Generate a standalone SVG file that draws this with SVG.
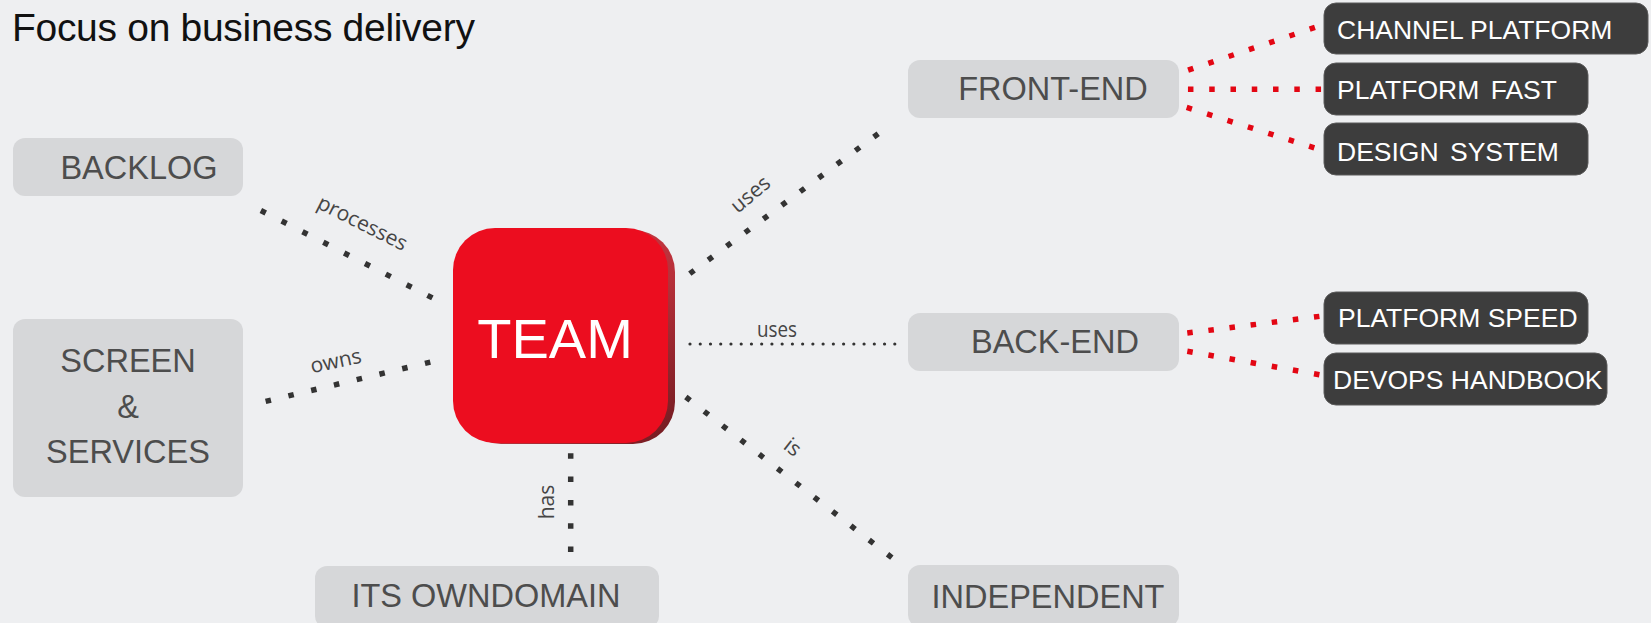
<svg xmlns="http://www.w3.org/2000/svg" width="1651" height="623" viewBox="0 0 1651 623">
<defs>
<style>
.bg{fill:#eeeff1}
.lbox{fill:#d6d7d9}
.dbox{fill:#3d3d3d;stroke:#5a5a5a;stroke-width:1}
.ltxt{font-family:"Liberation Sans",Arial,sans-serif;font-size:32.5px;fill:#4d4d4d}
.dtxt{font-family:"Liberation Sans",Arial,sans-serif;font-size:26.5px;fill:#ffffff}
.lab{font-family:"Open Sans","Noto Sans",sans-serif;font-size:21px;fill:#454545}
.dot{fill:none;stroke:#333333;stroke-width:5.5;stroke-linecap:butt}
.thin{fill:none;stroke:#333333;stroke-width:3.2;stroke-linecap:round}
.red{fill:none;stroke:#e30613;stroke-width:5.5;stroke-linecap:butt}
</style>
<linearGradient id="sh" x1="0" y1="0" x2="1" y2="1">
<stop offset="0" stop-color="#e2404a"/>
<stop offset="0.6" stop-color="#b8303a"/>
<stop offset="1" stop-color="#6e1a20"/>
</linearGradient>
</defs>
<rect class="bg" x="0" y="0" width="1651" height="623"/>
<text x="12" y="41" font-family="Liberation Sans, Arial, sans-serif" font-size="39" letter-spacing="-0.3" fill="#111111">Focus on business delivery</text>

<g id="connectors">
<line class="dot" x1="260.85" y1="210.45" x2="432.45" y2="297.95" stroke-dasharray="5.5 17.88"/>
<line class="dot" x1="265.63" y1="401.34" x2="430.37" y2="362.06" stroke-dasharray="5.5 17.9"/>
<line class="dot" x1="689.79" y1="273.64" x2="878.21" y2="133.66" stroke-dasharray="5.5 17.42"/>
<line class="thin" x1="690" y1="344" x2="895" y2="344" stroke-dasharray="0 10.24"/>
<line class="dot" x1="570.7" y1="453.25" x2="570.7" y2="552.05" stroke-dasharray="5.5 17.83"/>
<line class="dot" x1="685.83" y1="397.01" x2="891.87" y2="557.69" stroke-dasharray="5.5 17.75"/>
<line class="red" x1="1188.09" y1="70.18" x2="1314.91" y2="27.42" stroke-dasharray="5.5 15.89"/>
<line class="red" x1="1187.95" y1="89.3" x2="1321.05" y2="89.3" stroke-dasharray="5.5 15.77"/>
<line class="red" x1="1186.68" y1="107.47" x2="1314.32" y2="147.83" stroke-dasharray="5.5 15.89"/>
<line class="red" x1="1187.27" y1="333.04" x2="1319.43" y2="316.36" stroke-dasharray="5.5 15.78"/>
<line class="red" x1="1187.29" y1="351.22" x2="1319.41" y2="374.78" stroke-dasharray="5.5 15.95"/>
<text class="lab" text-anchor="middle" transform="translate(362,224) rotate(26.6)" y="6">processes</text>
<text class="lab" text-anchor="middle" transform="translate(336,362) rotate(-12)" y="6">owns</text>
<text class="lab" text-anchor="middle" transform="translate(751,195) rotate(-40)" y="6">uses</text>
<text class="lab" x="777" y="337" text-anchor="middle" textLength="40" lengthAdjust="spacingAndGlyphs">uses</text>
<text class="lab" text-anchor="middle" transform="translate(548,502) rotate(-90)" y="6">has</text>
<text class="lab" text-anchor="middle" transform="translate(792,448) rotate(38)" y="6">is</text>
</g>

<g id="backlog">
<rect class="lbox" x="13" y="138" width="230" height="58" rx="12"/>
<text class="ltxt" x="139" y="179" text-anchor="middle">BACKLOG</text>
</g>
<g id="screen-services">
<rect class="lbox" x="13" y="319" width="230" height="178" rx="12"/>
<text class="ltxt" x="128" y="372" text-anchor="middle">SCREEN</text>
<text class="ltxt" x="128" y="418" text-anchor="middle">&amp;</text>
<text class="ltxt" x="128" y="463" text-anchor="middle">SERVICES</text>
</g>
<g id="team">
<rect x="459" y="230" width="216" height="214" rx="42" fill="url(#sh)"/>
<rect x="453" y="228" width="215" height="215" rx="42" fill="#ec0d1f"/>
<text x="555" y="358" text-anchor="middle" font-family="Liberation Sans, Arial, sans-serif" font-size="56" fill="#ffffff">TEAM</text>
</g>
<g id="its-own-domain">
<rect class="lbox" x="315" y="566" width="344" height="62" rx="12"/>
<text class="ltxt" x="486" y="607" text-anchor="middle">ITS OWNDOMAIN</text>
</g>
<g id="front-end">
<rect class="lbox" x="908" y="60" width="271" height="58" rx="12"/>
<text class="ltxt" x="1053" y="100" text-anchor="middle">FRONT-END</text>
</g>
<g id="back-end">
<rect class="lbox" x="908" y="313" width="271" height="58" rx="12"/>
<text class="ltxt" x="1055" y="353" text-anchor="middle">BACK-END</text>
</g>
<g id="independent">
<rect class="lbox" x="908" y="565" width="271" height="62" rx="12"/>
<text class="ltxt" x="1048" y="608" text-anchor="middle">INDEPENDENT</text>
</g>
<g id="channel-platform">
<rect class="dbox" x="1324" y="3" width="324" height="51" rx="12"/>
<text class="dtxt" x="1337" y="39">CHANNEL PLATFORM</text>
</g>
<g id="platform-fast">
<rect class="dbox" x="1324" y="63" width="264" height="52" rx="12"/>
<text class="dtxt" x="1337" y="99" word-spacing="4">PLATFORM FAST</text>
</g>
<g id="design-system">
<rect class="dbox" x="1324" y="123" width="264" height="52" rx="12"/>
<text class="dtxt" x="1337" y="161" word-spacing="4">DESIGN SYSTEM</text>
</g>
<g id="platform-speed">
<rect class="dbox" x="1324" y="292" width="264" height="52" rx="12"/>
<text class="dtxt" x="1338" y="327">PLATFORM SPEED</text>
</g>
<g id="devops-handbook">
<rect class="dbox" x="1324" y="353" width="283" height="52" rx="12"/>
<text class="dtxt" x="1333" y="389">DEVOPS HANDBOOK</text>
</g>
</svg>
